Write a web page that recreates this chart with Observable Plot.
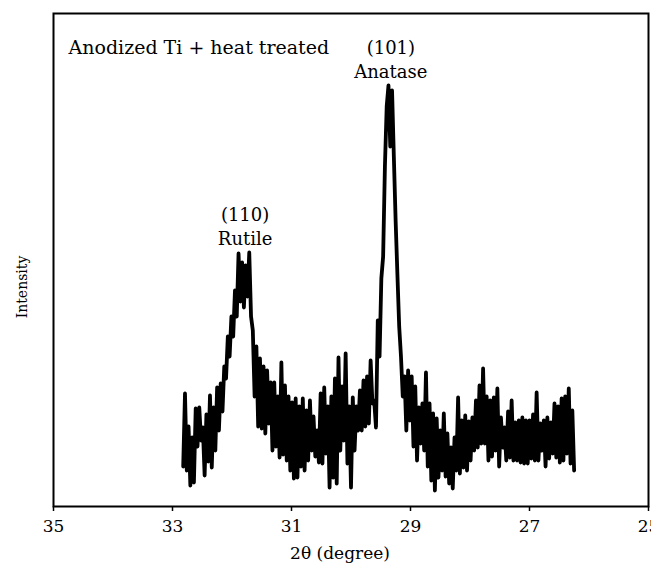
<!DOCTYPE html>
<html>
<head>
<meta charset="utf-8">
<script src="https://cdn.jsdelivr.net/npm/d3@7"></script>
<script src="https://cdn.jsdelivr.net/npm/@observablehq/plot@0.6"></script>
<style>
  html, body { margin: 0; padding: 0; background: #fff; }
</style>
</head>
<body>
<div id="chart"></div>
<script>
// XRD scan: [2θ (degree), intensity (arb. units)]
const scan = [
  [32.82,40],[32.79,113],[32.76,36],[32.73,80],[32.70,21],[32.67,69],[32.64,24],[32.61,98],
  [32.58,60],[32.55,99],[32.52,66],[32.49,79],[32.46,31],[32.43,92],[32.40,45],[32.37,111],
  [32.34,39],[32.31,99],[32.28,56],[32.25,119],[32.22,76],[32.19,123],[32.16,95],[32.13,140],
  [32.10,128],[32.07,170],[32.04,150],[32.01,190],[31.98,170],[31.95,216],[31.92,190],[31.89,253],
  [31.86,205],[31.83,244],[31.80,199],[31.77,241],[31.74,210],[31.71,254],[31.68,190],[31.65,176],
  [31.62,110],[31.59,160],[31.56,80],[31.53,148],[31.50,78],[31.47,140],[31.44,73],[31.41,136],
  [31.38,83],[31.35,124],[31.32,56],[31.29,124],[31.26,60],[31.23,110],[31.20,49],[31.17,144],
  [31.14,52],[31.11,121],[31.08,46],[31.05,110],[31.02,36],[30.99,104],[30.96,28],[30.93,108],
  [30.90,29],[30.87,100],[30.84,40],[30.81,108],[30.78,36],[30.75,96],[30.72,46],[30.69,106],
  [30.66,56],[30.63,90],[30.60,50],[30.57,76],[30.54,44],[30.51,113],[30.48,43],[30.45,119],
  [30.42,53],[30.39,100],[30.36,19],[30.33,110],[30.30,29],[30.27,128],[30.24,23],[30.21,149],
  [30.18,56],[30.15,120],[30.12,66],[30.09,153],[30.06,43],[30.03,100],[30.00,19],[29.97,109],
  [29.94,56],[29.91,100],[29.88,76],[29.85,116],[29.82,76],[29.79,126],[29.76,80],[29.73,130],
  [29.70,83],[29.67,146],[29.64,103],[29.61,106],[29.58,79],[29.55,186],[29.52,150],[29.49,228],
  [29.46,250],[29.43,340],[29.40,400],[29.37,421],[29.34,360],[29.31,416],[29.28,350],[29.25,286],
  [29.22,232],[29.19,180],[29.16,150],[29.13,110],[29.10,130],[29.07,76],[29.04,136],[29.01,86],
  [28.98,130],[28.95,60],[28.92,120],[28.89,46],[28.86,99],[28.83,63],[28.80,103],[28.77,56],
  [28.74,134],[28.71,40],[28.68,103],[28.65,26],[28.62,93],[28.59,16],[28.56,88],[28.53,29],
  [28.50,76],[28.47,36],[28.44,93],[28.41,30],[28.38,73],[28.35,23],[28.32,59],[28.29,18],
  [28.26,69],[28.23,36],[28.20,109],[28.17,33],[28.14,86],[28.11,39],[28.08,91],[28.05,36],
  [28.02,85],[27.99,46],[27.96,89],[27.93,56],[27.90,106],[27.87,59],[27.84,121],[27.81,63],
  [27.78,138],[27.75,63],[27.72,110],[27.69,46],[27.66,106],[27.63,50],[27.60,109],[27.57,56],
  [27.54,118],[27.51,40],[27.48,89],[27.45,59],[27.42,79],[27.39,46],[27.36,95],[27.33,49],
  [27.30,106],[27.27,46],[27.24,84],[27.21,46],[27.18,86],[27.15,44],[27.12,89],[27.09,43],
  [27.06,86],[27.03,43],[27.00,86],[26.97,48],[26.94,92],[26.91,46],[26.88,114],[26.85,46],
  [26.82,83],[26.79,56],[26.76,86],[26.73,40],[26.70,89],[26.67,48],[26.64,84],[26.61,53],
  [26.58,103],[26.55,49],[26.52,100],[26.49,44],[26.46,108],[26.43,46],[26.40,110],[26.37,53],
  [26.34,118],[26.31,43],[26.28,96],[26.25,36]
];

const xTicks = [35, 33, 31, 29, 27, 25];
const xDomain = [35, 25];
const yDomain = [0, 493];

const peakTheta = [31.78, 29.33];
const peakIntensity = [254, 421];
const peakHkl = ["(110)", "(101)"];
const peakPhase = ["Rutile", "Anatase"];

const titleText = "Anodized Ti + heat treated";
const xLabel = "2\u03B8 (degree)";
const yLabel = "Intensity";

const peaks = peakTheta.map((t, i) => ({t, I: peakIntensity[i], hkl: peakHkl[i], phase: peakPhase[i]}));

const chart = Plot.plot({
  width: 651,
  height: 574,
  marginLeft: 53,
  marginRight: 3,
  marginTop: 13,
  marginBottom: 68,
  style: {fontFamily: "'DejaVu Serif', serif", fontSize: "17px", color: "#000", background: "#fff"},
  x: {domain: xDomain},
  y: {domain: yDomain},
  marks: [
    Plot.line(scan, {x: d => d[0], y: d => d[1], stroke: "#000", strokeWidth: 3.8, strokeLinejoin: "round"}),
    Plot.frame({stroke: "#000", strokeWidth: 2}),
    Plot.axisX({ticks: xTicks, tickSize: 5, tickPadding: 8, fontSize: 17, label: null, tickFormat: d => String(d), strokeWidth: 1.5}),
    Plot.axisY({ticks: [], label: null}),
    Plot.text([yLabel], {frameAnchor: "left", text: d => d, rotate: -90, dx: -31, dy: 27, lineAnchor: "middle", textAnchor: "middle", fontSize: 14}),
    Plot.text([xLabel], {frameAnchor: "bottom", text: d => d, dx: -11, dy: 52, lineAnchor: "bottom", fontSize: 17}),
    Plot.text([titleText], {frameAnchor: "top-left", text: d => d, dx: 15, dy: 40, lineAnchor: "bottom", textAnchor: "start", fontSize: 19}),
    Plot.text(peaks, {x: "t", y: "I", text: "phase", dy: -8, lineAnchor: "bottom", fontSize: 18}),
    Plot.text(peaks, {x: "t", y: "I", text: "hkl", dy: -32, lineAnchor: "bottom", fontSize: 18})
  ]
});
document.getElementById("chart").appendChild(chart);
</script>
</body>
</html>
